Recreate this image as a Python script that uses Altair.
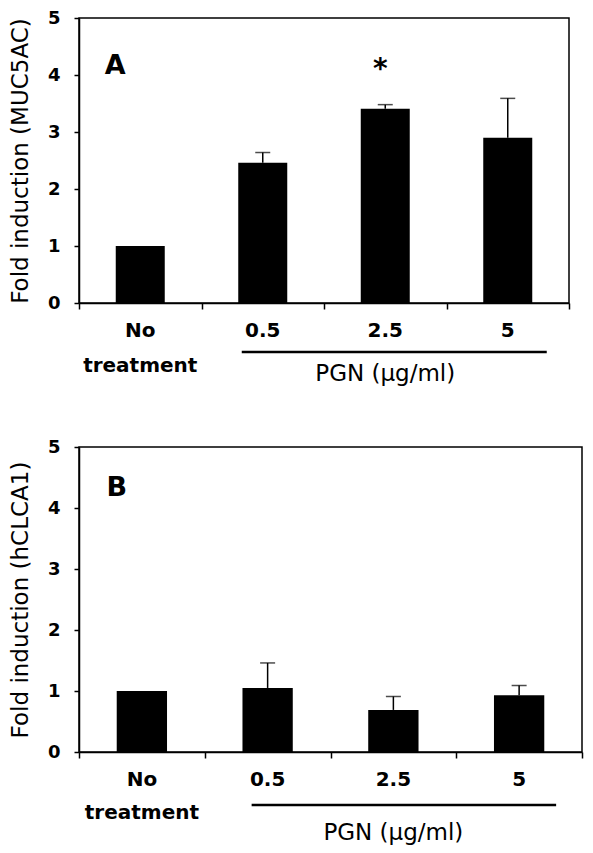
import altair as alt
import pandas as pd

categories = ["No treatment", "0.5", "2.5", "5"]
label_line1 = ["No", "0.5", "2.5", "5"]
label_line2 = ["treatment", "", "", ""]
muc5ac_mean = [1.0, 2.46, 3.41, 2.90]
muc5ac_err = [0.0, 0.18, 0.07, 0.69]
hclca1_mean = [1.0, 1.05, 0.69, 0.93]
hclca1_err = [0.0, 0.41, 0.22, 0.16]
y_ticks = [0, 1, 2, 3, 4, 5]
group_label = "PGN (\u03bcg/ml)"

FONT = "DejaVu Sans"


def panel(mean, err, ytitle, letter, letter_y, star_y, w, h, offs):
    df = pd.DataFrame({
        "cat": categories,
        "mean": mean,
        "err": err,
        "upper": [m + e for m, e in zip(mean, err)],
        "l1": label_line1,
        "l2": label_line2,
    })
    xs = alt.Scale(domain=categories, paddingInner=0, paddingOuter=0)
    x_axis = alt.X("cat:N", sort=None, scale=xs,
                   axis=alt.Axis(labels=False, title=None, tickBand="extent",
                                 tickSize=6, domainWidth=1.5, tickWidth=1.5,
                                 domainColor="black", tickColor="black"))
    xp = alt.X("cat:N", sort=None, scale=xs)
    y_axis = alt.Y("mean:Q", scale=alt.Scale(domain=[0, 5], nice=False),
                   axis=alt.Axis(values=y_ticks, format="d", title=ytitle,
                                 grid=False, tickSize=5, tickWidth=1.5,
                                 domainWidth=1.5, domainColor="black",
                                 tickColor="black", labelFont=FONT,
                                 labelFontWeight="bold", labelFontSize=18,
                                 labelColor="black", labelPadding=14,
                                 titleFont=FONT, titleFontWeight="normal",
                                 titleFontSize=23, titleColor="black",
                                 titlePadding=15))
    base = alt.Chart(df)
    bars = base.mark_bar(color="black", width=alt.RelativeBandSize(0.4)).encode(
        x=x_axis, y=y_axis)
    ebase = base.transform_filter("datum.err > 0")
    err_rule = ebase.mark_rule(color="black", strokeWidth=1.5).encode(
        x=xp, y="mean:Q", y2="upper:Q")
    cap = ebase.mark_tick(color="black", size=15, thickness=1.5,
                          orient="horizontal").encode(x=xp, y="upper:Q")

    lab1 = base.mark_text(font=FONT, fontWeight="bold", fontSize=20,
                          baseline="middle", color="black").encode(
        x=xp, y=alt.value(h + offs[0]), text="l1:N")
    lab2 = base.mark_text(font=FONT, fontWeight="bold", fontSize=20,
                          baseline="middle", color="black").encode(
        x=xp, y=alt.value(h + offs[1]), text="l2:N")

    line_df = pd.DataFrame({"cat": ["0.5"], "cat_end": ["5"]})
    gline = alt.Chart(line_df).mark_rule(color="black", strokeWidth=2.5,
                                         xOffset=offs[4], x2Offset=offs[5]).encode(
        x=xp, x2="cat_end:N", y=alt.value(h + offs[2]))
    glab_df = pd.DataFrame({"cat": ["2.5"], "t": [group_label]})
    glab = alt.Chart(glab_df).mark_text(font=FONT, fontSize=23,
                                        baseline="middle", color="black").encode(
        x=xp, y=alt.value(h + offs[3]), text="t:N")

    let_df = pd.DataFrame({"cat": ["No treatment"], "v": [letter_y], "t": [letter]})
    let = alt.Chart(let_df).mark_text(font=FONT, fontWeight="bold", fontSize=27,
                                      baseline="middle", color="black",
                                      xOffset=-25).encode(
        x=xp, y="v:Q", text="t:N")

    layers = [bars, err_rule, cap, lab1, lab2, gline, glab, let]
    if star_y is not None:
        star_df = pd.DataFrame({"cat": ["2.5"], "v": [star_y], "t": ["*"]})
        star = alt.Chart(star_df).mark_text(font=FONT, fontWeight="bold",
                                            fontSize=28, baseline="middle",
                                            color="black", xOffset=-5,
                                            dy=3).encode(
            x=xp, y="v:Q", text="t:N")
        layers.append(star)
    return alt.layer(*layers).properties(width=w, height=h)


pa = panel(muc5ac_mean, muc5ac_err, "Fold induction (MUC5AC)", "A", 4.15, 4.14,
           490, 285, (28, 63, 49, 71, -21, 39))
pb = panel(hclca1_mean, hclca1_err, "Fold induction (hCLCA1)", "B", 4.33, None,
           503, 305, (28, 61, 53, 81, -16, 37))

chart = alt.vconcat(pa, pb, spacing=50).properties(padding=0).configure_view(
    stroke="black", strokeWidth=1.5).configure_axis(grid=False)

chart.save("out.html", embed_options={"renderer": "svg", "actions": False})
